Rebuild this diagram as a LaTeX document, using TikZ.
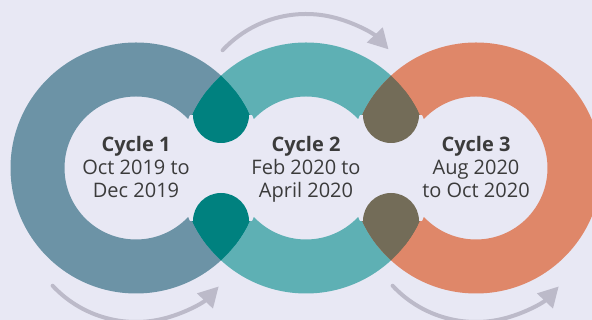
\documentclass[tikz,border=0pt]{standalone}
\usepackage{fontspec}
\setmainfont{Open Sans}
\usetikzlibrary{arrows.meta}
\definecolor{bg}{HTML}{E8E8F4}
\definecolor{ringA}{HTML}{6C93A6}
\definecolor{ringB}{HTML}{5EB0B4}
\definecolor{ringC}{HTML}{DF8769}
\definecolor{ovAB}{HTML}{00817F}
\definecolor{ovBC}{HTML}{736C58}
\definecolor{arrgrey}{HTML}{BCBAC9}
\definecolor{txt}{HTML}{3B3B3B}
\newcommand\RingOuter{125.5pt}
\newcommand\RingOuterWide{127.5pt}
\newcommand\RingInner{71.5pt}
\newcommand\drawring[2]{\fill[#2, even odd rule] (#1) circle[radius=\RingOuter] (#1) circle[radius=\RingInner];}
% #1,#2 ring centres, #3 colour, #4 mid x, #5 left x, #6 right x
\newcommand\drawoverlap[6]{%
  \begin{scope}
    \clip (#1) circle[radius=\RingOuterWide];
    \clip (#2) circle[radius=\RingOuterWide];
    \fill[bg] (#5,99) rectangle (#6,205);
  \end{scope}
  \begin{scope}
    \clip (#1) circle[radius=\RingOuter];
    \clip (#2) circle[radius=\RingOuter];
    \fill[#3] (#5,205) rectangle (#6,330);
    \fill[#3] (#4,205) circle[radius=28pt];
    \fill[#3] (#5,-10) rectangle (#6,99);
    \fill[#3] (#4,99) circle[radius=28pt];
  \end{scope}}
\begin{document}
\begin{tikzpicture}[x=1pt,y=1pt,
  lbl/.style={align=center, text=txt, inner sep=0pt, font=\fontsize{20}{23}\selectfont},
  cyclearrow/.style={draw=arrgrey, line width=4pt, line cap=round, -{Triangle[length=20pt,width=21pt]}}]
\useasboundingbox (0,0) rectangle (592,320);
\fill[bg] (0,0) rectangle (592,320);
\clip (0,0) rectangle (592,320);
\coordinate (c1) at (136,152);
\coordinate (c2) at (306,152);
\coordinate (c3) at (476,152);
\drawring{c1}{ringA}
\drawring{c2}{ringB}
\drawring{c3}{ringC}
\drawoverlap{c1}{c2}{ovAB}{221}{176}{266}
\drawoverlap{c2}{c3}{ovBC}{391}{346}{436}
% arrows
\coordinate (topc) at (306,192);
\coordinate (botl) at (136,112);
\coordinate (botr) at (476,112);
\draw[cyclearrow] (topc) ++(137:114) arc[start angle=137, end angle=43.6, radius=114pt];
\draw[cyclearrow] (botl) ++(223:114) arc[start angle=223, end angle=316.5, radius=114pt];
\draw[cyclearrow] (botr) ++(223:114) arc[start angle=223, end angle=316.5, radius=114pt];
% labels
\node[lbl] (t1) at (136,151) {\textbf{Cycle 1}\\Oct 2019 to\\Dec 2019\vphantom{p}};
\node[lbl] (t2) at (306,151) {\textbf{Cycle 2}\\Feb 2020 to\\April 2020\vphantom{p}};
\node[lbl] (t3) at (476,151) {\textbf{Cycle 3}\\Aug 2020\\to Oct 2020\vphantom{p}};
\end{tikzpicture}
\end{document}
